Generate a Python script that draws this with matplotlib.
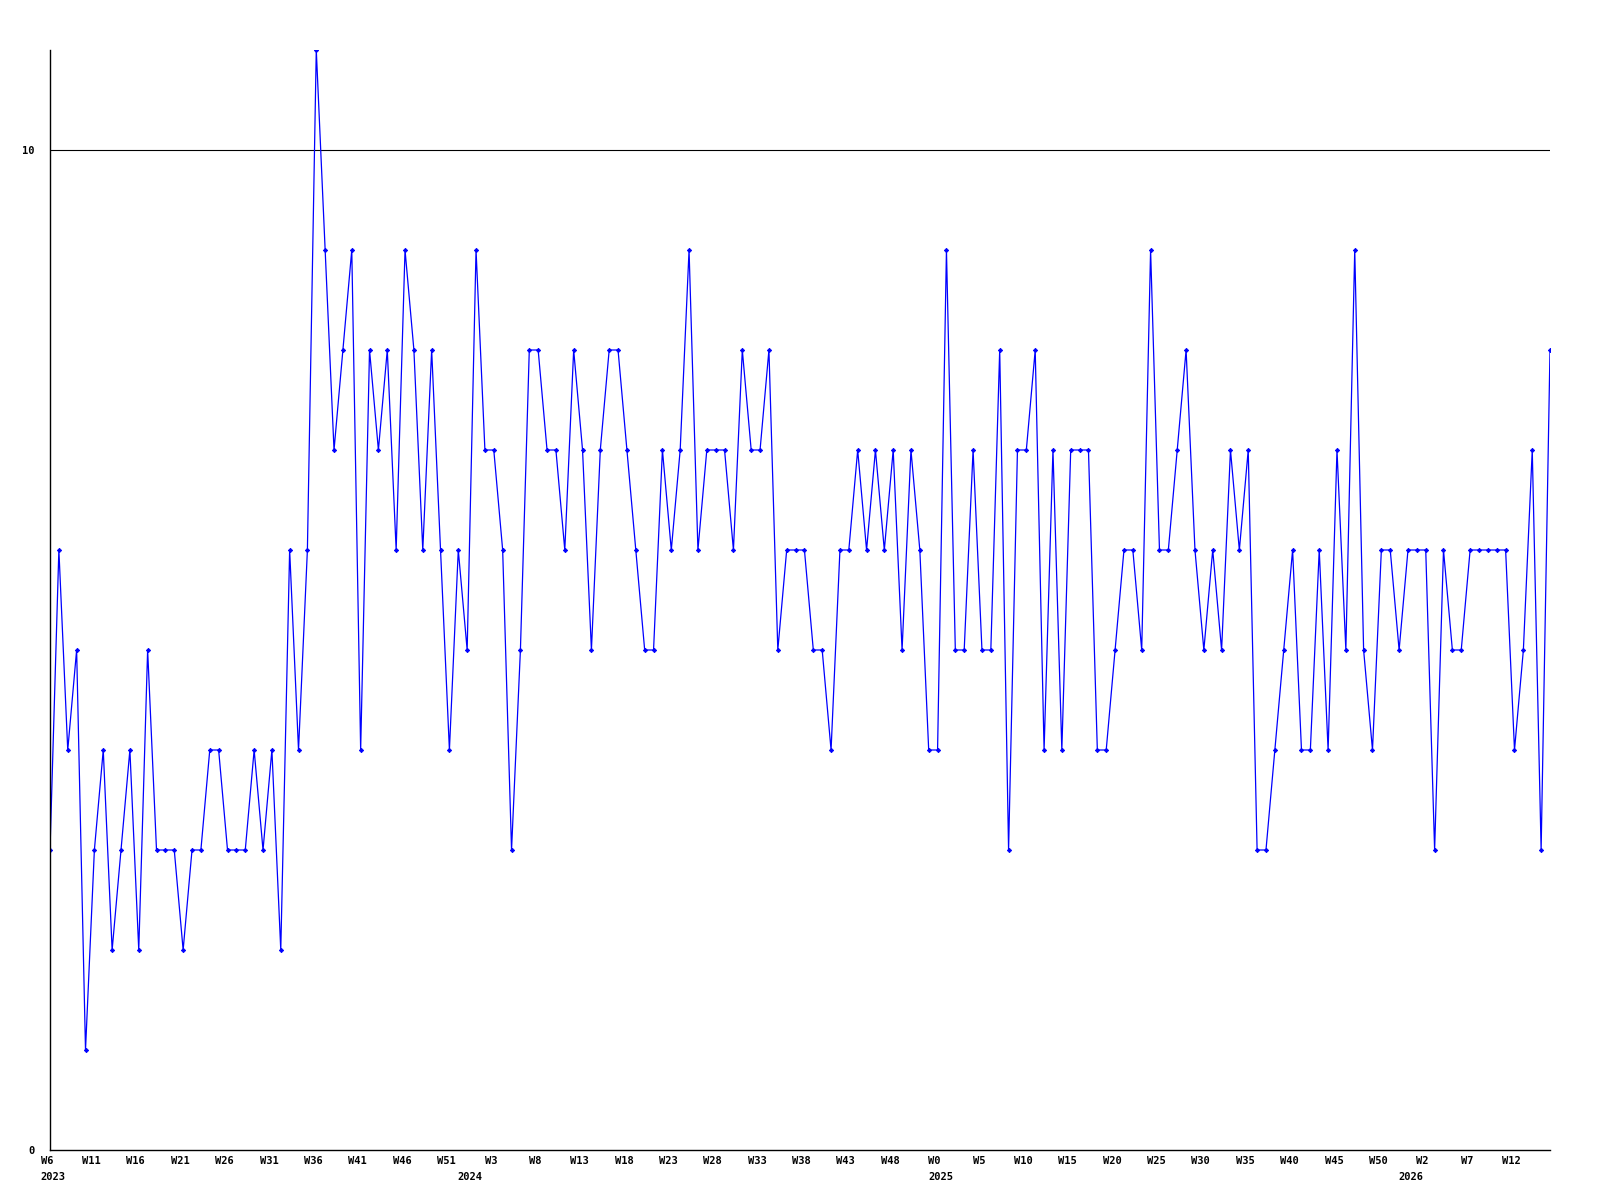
import matplotlib
matplotlib.use("Agg")
import matplotlib.pyplot as plt
import matplotlib.transforms as mtransforms

# weekly counts, 2023 W6 .. 2026 W16 (one value per week)
values = [
    3, 6, 4, 5, 1, 3, 4, 2, 3, 4,
    2, 5, 3, 3, 3, 2, 3, 3, 4, 4,
    3, 3, 3, 4, 3, 4, 2, 6, 4, 6,
    11, 9, 7, 8, 9, 4, 8, 7, 8, 6,
    9, 8, 6, 8, 6, 4, 6, 5, 9, 7,
    7, 6, 3, 5, 8, 8, 7, 7, 6, 8,
    7, 5, 7, 8, 8, 7, 6, 5, 5, 7,
    6, 7, 9, 6, 7, 7, 7, 6, 8, 7,
    7, 8, 5, 6, 6, 6, 5, 5, 4, 6,
    6, 7, 6, 7, 6, 7, 5, 7, 6, 4,
    4, 9, 5, 5, 7, 5, 5, 8, 3, 7,
    7, 8, 4, 7, 4, 7, 7, 7, 4, 4,
    5, 6, 6, 5, 9, 6, 6, 7, 8, 6,
    5, 6, 5, 7, 6, 7, 3, 3, 4, 5,
    6, 4, 4, 6, 4, 7, 5, 9, 5, 4,
    6, 6, 5, 6, 6, 6, 3, 6, 5, 5,
    6, 6, 6, 6, 6, 4, 5, 7, 3, 8,
]

# x tick labels, one every 5 weeks starting at index 0
week_labels = [
    "W6", "W11", "W16", "W21", "W26", "W31", "W36", "W41", "W46", "W51",
    "W3", "W8", "W13", "W18", "W23", "W28", "W33", "W38", "W43", "W48",
    "W0", "W5", "W10", "W15", "W20", "W25", "W30", "W35", "W40", "W45",
    "W50", "W2", "W7", "W12",
]
years = ["2023", "2024", "2025", "2026"]
year_pos = [0, 47, 100, 153]  # index of first week of each year

font = dict(family="DejaVu Sans Mono", fontweight="bold", fontsize=7.5)

fig = plt.figure(figsize=(16, 12), dpi=100)
ax = fig.add_axes([50 / 1600, 50 / 1200, 1500 / 1600, 1100 / 1200])

x = list(range(len(values)))
ax.plot(x, values, color="#0000ff", lw=0.9, marker="D", markersize=2.2,
        markeredgewidth=0.6)
ax.axhline(10, color="black", lw=0.8, zorder=0)

ax.set_xlim(0, len(values) - 1)
ax.set_ylim(0, max(values))

for side in ("top", "right"):
    ax.spines[side].set_visible(False)
for side in ("left", "bottom"):
    ax.spines[side].set_linewidth(1.0)
    ax.spines[side].set_color("black")

ax.set_yticks([0, 10])
ax.set_yticklabels(["0", "10"], **font)
ax.tick_params(axis="y", length=0, pad=11)

ax.set_xticks(range(0, len(values), 5))
ax.set_xticklabels(week_labels, **font)
ax.tick_params(axis="x", length=0, pad=4)
# week labels sit a little left of their week in the original
shift = mtransforms.ScaledTranslation(-3 / 100, 0, fig.dpi_scale_trans)
for lbl in ax.get_xticklabels():
    lbl.set_transform(lbl.get_transform() + shift)

for yr, pos in zip(years, year_pos):
    ax.annotate(yr, xy=(pos, 0), xycoords=("data", "axes fraction"),
                xytext=(3, -22), textcoords="offset pixels",
                ha="center", va="top", **font)

fig.savefig("out.png", dpi=100)
